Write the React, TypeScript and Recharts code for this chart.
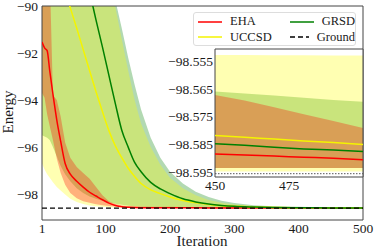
import React from "react";
import { Area, ComposedChart, Line, ReferenceArea, ReferenceLine, XAxis, YAxis } from "recharts";

const iterations = [1, 5, 9, 13, 18, 24, 30, 37, 45, 55, 65, 75, 85, 95, 105, 115, 125, 135, 145, 155, 170, 185, 200, 220, 240, 260, 280, 300, 330, 360, 400, 450, 460, 470, 480, 490, 500];

const ehaLine = [-91.53, -91.78, -91.9, -92.75, -93.75, -94.85, -95.75, -96.7, -97.15, -97.45, -97.7, -97.92, -98.08, -98.24, -98.38, -98.48, -98.54, -98.56, -98.57, -98.575, -98.578, -98.58, -98.582, -98.583, -98.584, -98.585, -98.5855, -98.586, -98.5865, -98.587, -98.5875, -98.5884, -98.5888, -98.5892, -98.5896, -98.59, -98.5905];
const ehaLow = [-93.7, -93.9, -94.6, -95.1, -95.7, -96.5, -97.1, -97.6, -97.95, -98.18, -98.3, -98.37, -98.43, -98.47, -98.5, -98.53, -98.545, -98.555, -98.562, -98.568, -98.574, -98.578, -98.581, -98.584, -98.586, -98.5875, -98.589, -98.59, -98.591, -98.592, -98.593, -98.5935, -98.5935, -98.5935, -98.5935, -98.5935, -98.5935];
const ehaHigh = [-87.5, -87.8, -88.2, -88.6, -93.8, -94.0, -94.7, -95.8, -96.45, -96.85, -97.1, -97.35, -97.7, -98.05, -98.3, -98.42, -98.48, -98.51, -98.525, -98.53, -98.535, -98.538, -98.54, -98.543, -98.545, -98.547, -98.549, -98.55, -98.553, -98.556, -98.56, -98.567, -98.569, -98.5715, -98.574, -98.5765, -98.579];

const uccsdLine = [-85.9, -86.3, -86.7, -87.1, -87.6, -88.2, -88.8, -89.4, -90.08, -90.95, -91.85, -92.75, -93.65, -94.5, -95.3, -95.95, -96.45, -96.9, -97.25, -97.55, -97.82, -97.98, -98.12, -98.27, -98.37, -98.44, -98.49, -98.52, -98.55, -98.567, -98.576, -98.5817, -98.5824, -98.583, -98.5837, -98.5843, -98.585];
const uccsdLow = [-96.7, -96.95, -97.15, -97.3, -97.5, -97.7, -97.85, -98.02, -98.2, -98.33, -98.42, -98.48, -98.52, -98.54, -98.555, -98.565, -98.572, -98.577, -98.58, -98.583, -98.586, -98.588, -98.59, -98.591, -98.592, -98.593, -98.5935, -98.594, -98.5943, -98.5945, -98.5947, -98.5948, -98.5948, -98.5948, -98.5948, -98.5948, -98.5948];
const uccsdHigh = [-80, -80.3, -80.6, -81, -81.5, -82.1, -82.7, -83.4, -84.2, -85.1, -86.0, -86.8, -87.5, -88.2, -88.95, -90.05, -91.4, -92.75, -94.0, -95.0, -96.0, -96.75, -97.3, -97.75, -98.05, -98.25, -98.37, -98.44, -98.5, -98.53, -98.545, -98.5525, -98.5525, -98.5526, -98.5526, -98.5527, -98.5527];

const grsdLine = [-80.9, -81.4, -81.9, -82.4, -83.0, -83.7, -84.4, -85.2, -86.1, -87.2, -88.3, -89.4, -90.6, -91.75, -92.95, -94.15, -95.28, -96.0, -96.65, -97.05, -97.5, -97.78, -97.98, -98.2, -98.33, -98.42, -98.48, -98.52, -98.55, -98.57, -98.579, -98.5847, -98.5853, -98.586, -98.5866, -98.587, -98.5875];
const grsdLow = [-95.5, -95.55, -95.6, -95.7, -96.0, -96.4, -96.8, -97.15, -97.45, -97.75, -97.95, -98.1, -98.2, -98.28, -98.35, -98.41, -98.45, -98.49, -98.52, -98.54, -98.555, -98.565, -98.572, -98.578, -98.582, -98.585, -98.587, -98.589, -98.591, -98.592, -98.593, -98.5935, -98.5935, -98.5935, -98.5935, -98.5935, -98.5935];
const grsdHigh = [-76, -76.5, -77, -77.5, -78.1, -78.8, -79.5, -80.3, -81.2, -82.3, -83.4, -84.5, -85.6, -86.8, -88.0, -89.75, -90.95, -92.2, -93.35, -94.4, -95.6, -96.45, -97.05, -97.55, -97.9, -98.12, -98.28, -98.38, -98.47, -98.51, -98.54, -98.5657, -98.5665, -98.5672, -98.568, -98.5688, -98.5695];

const groundEnergy = -98.5956;

const mainYTicks = [-90, -92, -94, -96, -98];
const mainXTicks = [1, 100, 200, 300, 400, 500];
const insetYTicks = [-98.555, -98.565, -98.575, -98.585, -98.595];
const insetXTicks = [450, 475];

const data = iterations.map((it, i) => ({
  it,
  eha: ehaLine[i],
  ehaBand: [ehaLow[i], ehaHigh[i]],
  uccsd: uccsdLine[i],
  uccsdBand: [uccsdLow[i], uccsdHigh[i]],
  grsd: grsdLine[i],
  grsdBand: [grsdLow[i], grsdHigh[i]],
}));
const insetData = data.filter((d) => d.it >= 450);

const FONT = "'Liberation Serif', serif";
const TEXT = "#1a1a1a";
const TICK_SIZE = 13.5;
const minus = (v: number, digits = 0) => (v < 0 ? "\u2212" : "") + Math.abs(v).toFixed(digits);

const legendItems = [
  { name: "EHA", color: "#ff0000", dash: false },
  { name: "GRSD", color: "#008000", dash: false },
  { name: "UCCSD", color: "#f4f400", dash: false },
  { name: "Ground", color: "#000000", dash: true },
];

const xTick = (p: any) => (
  <text x={p.x} y={p.y + 10} textAnchor="middle" style={{ fontFamily: FONT, fontSize: TICK_SIZE, fill: TEXT }}>
    {p.payload.value}
  </text>
);
const yTick = (digits: number) => (p: any) => (
  <text x={p.x} y={p.y + 4.5} textAnchor="end" style={{ fontFamily: FONT, fontSize: TICK_SIZE, fill: TEXT }}>
    {minus(p.payload.value, digits)}
  </text>
);

function renderSeries(lw: number) {
  return [
    <Area key="gb" dataKey="grsdBand" type="linear" stroke="none" fill="#008000" fillOpacity={0.3} isAnimationActive={false} />,
    <Area key="ub" dataKey="uccsdBand" type="linear" stroke="none" fill="#ffff00" fillOpacity={0.3} isAnimationActive={false} />,
    <Area key="eb" dataKey="ehaBand" type="linear" stroke="none" fill="#ff0000" fillOpacity={0.3} isAnimationActive={false} />,
    <Line key="el" dataKey="eha" type="monotone" stroke="#ff0000" strokeWidth={lw} dot={false} isAnimationActive={false} />,
    <Line key="ul" dataKey="uccsd" type="monotone" stroke="#f4f400" strokeWidth={lw} dot={false} isAnimationActive={false} />,
    <Line key="gl" dataKey="grsd" type="monotone" stroke="#008000" strokeWidth={lw} dot={false} isAnimationActive={false} />,
  ];
}

export default function App() {
  return (
    <div style={{ position: "absolute", left: 0, top: 0, width: 374, height: 251, background: "#fff", fontFamily: FONT }}>
      <ComposedChart width={374} height={251} data={data} margin={{ top: 6, right: 11, bottom: 0, left: 0 }}>
        <XAxis
          dataKey="it"
          type="number"
          domain={[1, 500]}
          ticks={mainXTicks}
          interval={0}
          allowDataOverflow
          tickLine={false}
          tickSize={0}
          tickMargin={3}
          height={31}
          axisLine={false}
          tick={xTick}
          label={() => (
            <text x={202} y={246} textAnchor="middle" style={{ fontFamily: FONT, fontSize: 15, fill: TEXT }}>
              Iteration
            </text>
          )}
        />
        <YAxis
          type="number"
          domain={[-99.1, -90]}
          ticks={mainYTicks}
          interval={0}
          allowDataOverflow
          tickLine={false}
          tickSize={0}
          tickMargin={4}
          width={42}
          axisLine={false}
          tick={yTick(0)}
          label={() => (
            <text x={13} y={112} transform="rotate(-90 13 112)" textAnchor="middle" style={{ fontFamily: FONT, fontSize: 15, fill: TEXT }}>
              Energy
            </text>
          )}
        />
        {renderSeries(1.5)}
        <ReferenceLine y={groundEnergy} stroke="#000" strokeWidth={1.4} strokeDasharray="5 3" />
        <ReferenceArea x1={1} x2={500} y1={-99.1} y2={-90} fill="none" stroke="#444" strokeWidth={1} fillOpacity={0} />
      </ComposedChart>

      <div style={{ position: "absolute", left: 215, top: 49, width: 148, height: 128, background: "#fff" }} />
      <div style={{ position: "absolute", left: 165, top: 43 }}>
        <ComposedChart width={199} height={155} data={insetData} margin={{ top: 6, right: 1, bottom: 0, left: 0 }}>
          <XAxis
            dataKey="it"
            type="number"
            domain={[450, 500]}
            ticks={insetXTicks}
            interval={0}
            allowDataOverflow
            tickLine={false}
            tickSize={0}
            tickMargin={3}
            height={21}
            axisLine={false}
            tick={xTick}
          />
          <YAxis
            type="number"
            domain={[-98.5968, -98.5503]}
            ticks={insetYTicks}
            interval={0}
            allowDataOverflow
            tickLine={false}
            tickSize={0}
            tickMargin={2}
            width={50}
            axisLine={false}
            tick={yTick(3)}
          />
          {renderSeries(1.5)}
          <ReferenceLine y={groundEnergy} stroke="#555" strokeWidth={1} strokeDasharray="1.5 1.5" />
          <ReferenceArea x1={450} x2={500} y1={-98.5968} y2={-98.5503} fill="none" stroke="#444" strokeWidth={1} fillOpacity={0} />
        </ComposedChart>
      </div>

      <div
        style={{
          position: "absolute",
          left: 193,
          top: 12,
          width: 161,
          height: 32,
          border: "1px solid #ddd",
          borderRadius: 3,
          background: "rgba(255,255,255,0.85)",
          display: "grid",
          gridTemplateColumns: "92px 69px",
          gridTemplateRows: "16px 15px",
          alignContent: "center",
          fontFamily: FONT,
          fontSize: 12.5,
          color: TEXT,
        }}
      >
        {legendItems.map((item) => (
          <div key={item.name} style={{ display: "flex", alignItems: "center", paddingLeft: 4 }}>
            <svg width={24} height={6} style={{ marginRight: 8 }}>
              <line x1={0} y1={3} x2={24} y2={3} stroke={item.color} strokeWidth={1.5} strokeDasharray={item.dash ? "5 3" : undefined} />
            </svg>
            <span>{item.name}</span>
          </div>
        ))}
      </div>
    </div>
  );
}
